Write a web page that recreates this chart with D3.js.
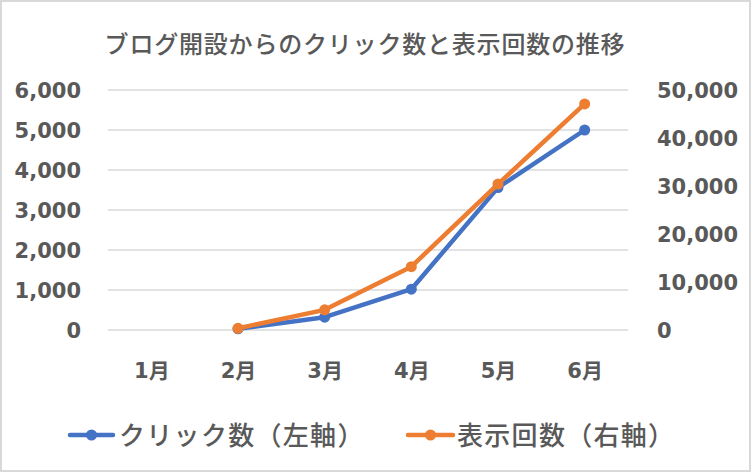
<!DOCTYPE html>
<html>
<head>
<meta charset="utf-8">
<script src="https://cdn.jsdelivr.net/npm/d3@7"></script>
<style>
  html, body { margin: 0; padding: 0; background: #fff; }
  svg { display: block; }
</style>
</head>
<body>
<svg id="chart" width="752" height="473"></svg>
<script>
const titleText = "ブログ開設からのクリック数と表示回数の推移";
const months = ["1月", "2月", "3月", "4月", "5月", "6月"];
const clicks = [null, 30, 320, 1020, 3560, 5000];
const impressions = [null, 350, 4200, 13200, 30400, 47100];
const leftTicks = [0, 1000, 2000, 3000, 4000, 5000, 6000];
const rightTicks = [0, 10000, 20000, 30000, 40000, 50000];
const seriesNames = ["クリック数（左軸）", "表示回数（右軸）"];
const seriesColors = ["#4472C4", "#ED7D31"];

const svg = d3.select("#chart");
const W = 752, H = 473;
const plot = { left: 108, right: 628, top: 90, bottom: 330 };
const numFont = "'DejaVu Sans', 'Noto Sans CJK JP', sans-serif";
const jpFont = "'Noto Sans CJK JP', sans-serif";
const textColor = "#595959";

svg.append("rect").attr("x", 1).attr("y", 1).attr("width", W - 3).attr("height", H - 3)
  .attr("fill", "#fff").attr("stroke", "#d9d9d9").attr("stroke-width", 2);

const x = d3.scalePoint().domain(months).range([plot.left, plot.right]).padding(0.5);
const yL = d3.scaleLinear().domain([0, 6000]).range([plot.bottom, plot.top]);
const yR = d3.scaleLinear().domain([0, 50000]).range([plot.bottom, plot.top]);
const fmt = d3.format(",");

// gridlines
svg.append("g").selectAll("line").data(leftTicks).join("line")
  .attr("x1", plot.left).attr("x2", plot.right)
  .attr("y1", d => yL(d)).attr("y2", d => yL(d))
  .attr("stroke", "#d9d9d9").attr("stroke-width", 1.5);

// left axis
const gL = svg.append("g").attr("transform", `translate(${plot.left - 27},0)`)
  .call(d3.axisLeft(yL).tickValues(leftTicks).tickFormat(fmt).tickSize(0).tickPadding(0));
gL.select(".domain").remove();
gL.selectAll("text").attr("font-family", numFont).attr("font-size", 21).attr("font-weight", "bold")
  .attr("fill", textColor).attr("dy", "0.36em");

// right axis
const gR = svg.append("g").attr("transform", `translate(${plot.right + 29},0)`)
  .call(d3.axisRight(yR).tickValues(rightTicks).tickFormat(fmt).tickSize(0).tickPadding(0));
gR.select(".domain").remove();
gR.selectAll("text").attr("font-family", numFont).attr("font-size", 21).attr("font-weight", "bold")
  .attr("fill", textColor).attr("dy", "0.36em");

// x axis
const gX = svg.append("g").attr("transform", `translate(0,${plot.bottom + 32})`)
  .call(d3.axisBottom(x).tickSize(0).tickPadding(0));
gX.select(".domain").remove();
gX.selectAll("text").attr("font-family", numFont).attr("font-size", 21).attr("font-weight", "bold")
  .attr("fill", textColor).attr("dy", "0.75em");

// series
const seriesData = [
  { vals: clicks, scale: yL, color: seriesColors[0] },
  { vals: impressions, scale: yR, color: seriesColors[1] }
];
seriesData.forEach(s => {
  const pts = months.map((m, i) => ({ m, v: s.vals[i] })).filter(d => d.v != null);
  const line = d3.line().x(d => x(d.m)).y(d => s.scale(d.v));
  svg.append("path").datum(pts).attr("d", line).attr("fill", "none")
    .attr("stroke", s.color).attr("stroke-width", 4.5).attr("stroke-linejoin", "round");
  svg.append("g").selectAll("circle").data(pts).join("circle")
    .attr("cx", d => x(d.m)).attr("cy", d => s.scale(d.v)).attr("r", 5.5)
    .attr("fill", s.color);
});

// title
svg.append("text").attr("x", 365).attr("y", 42).attr("text-anchor", "middle")
  .attr("dominant-baseline", "central")
  .attr("font-family", jpFont).attr("font-size", 24).attr("font-weight", 500)
  .attr("letter-spacing", 0.8).attr("fill", textColor).text(titleText);

// legend
const legendItems = [
  { name: seriesNames[0], color: seriesColors[0], x1: 70, x2: 113, tx: 119 },
  { name: seriesNames[1], color: seriesColors[1], x1: 408, x2: 453, tx: 457 }
];
const ly = 435;
legendItems.forEach(it => {
  svg.append("line").attr("x1", it.x1).attr("x2", it.x2).attr("y1", ly).attr("y2", ly)
    .attr("stroke", it.color).attr("stroke-width", 4.5).attr("stroke-linecap", "round");
  svg.append("circle").attr("cx", (it.x1 + it.x2) / 2).attr("cy", ly).attr("r", 5.5).attr("fill", it.color);
  svg.append("text").attr("x", it.tx).attr("y", ly - 2).attr("dominant-baseline", "central")
    .attr("font-family", jpFont).attr("font-size", 26).attr("font-weight", 500)
    .attr("letter-spacing", 1.3)
    .attr("fill", textColor).text(it.name);
});
</script>
</body>
</html>
